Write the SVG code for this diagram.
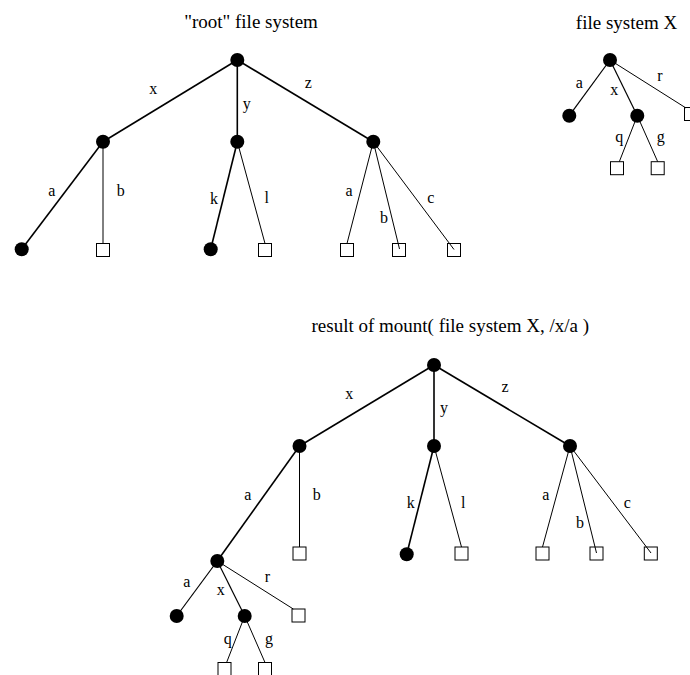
<svg xmlns="http://www.w3.org/2000/svg" width="690" height="675" viewBox="0 0 690 675">
<style>
  .bg { fill: #ffffff; }
  .dir { fill: #000000; }
  .file { fill: none; stroke: #000000; stroke-width: 1; }
  .thick { stroke: #000000; stroke-width: 1.6; fill: none; }
  .thin { stroke: #000000; stroke-width: 1; fill: none; }
  .mid { stroke: #000000; stroke-width: 1.2; fill: none; }
  .title { font-family: "Liberation Serif", "Times New Roman", serif; font-size: 19px; fill: #000; text-anchor: middle; }
  .lbl { font-family: "Liberation Serif", "Times New Roman", serif; font-size: 16px; fill: #000; text-anchor: middle; }
</style>
<rect class="bg" x="0" y="0" width="690" height="675"/>

<g id="titles">
  <text class="title" x="251" y="28">"root" file system</text>
  <text class="title" x="626.5" y="29">file system X</text>
  <text class="title" x="450.3" y="331.5">result of mount( file system X, /x/a )</text>
</g>

<g id="connectors">
  <!-- root file system -->
  <line class="thick" x1="237.3" y1="60" x2="103" y2="141.7"/>
  <line class="thick" x1="237.3" y1="60" x2="237.3" y2="141.7"/>
  <line class="thick" x1="237.3" y1="60" x2="373.3" y2="141.7"/>
  <line class="thick" x1="103" y1="141.7" x2="21.7" y2="249.3"/>
  <line class="thin" x1="103" y1="141.7" x2="103" y2="243.5"/>
  <line class="thick" x1="237.3" y1="141.7" x2="210.7" y2="249.3"/>
  <line class="thin" x1="237.3" y1="141.7" x2="265" y2="243.5"/>
  <line class="thin" x1="373.3" y1="141.7" x2="347" y2="243.5"/>
  <line class="thin" x1="373.3" y1="141.7" x2="399.5" y2="249"/>
  <line class="thin" x1="373.3" y1="141.7" x2="454" y2="249.5"/>
  <!-- file system X -->
  <line class="mid" x1="610" y1="60" x2="569.3" y2="115.7"/>
  <line class="mid" x1="610" y1="60" x2="637.3" y2="115.7"/>
  <line class="thin" x1="610" y1="60" x2="686" y2="108"/>
  <line class="thin" x1="637.3" y1="115.7" x2="619.3" y2="161.7"/>
  <line class="thin" x1="637.3" y1="115.7" x2="657.7" y2="161.7"/>
  <!-- mounted result -->
  <line class="thick" x1="434" y1="365" x2="299.5" y2="446"/>
  <line class="thick" x1="434" y1="365" x2="434" y2="446"/>
  <line class="thick" x1="434" y1="365" x2="570" y2="446"/>
  <line class="thick" x1="299.5" y1="446" x2="217.3" y2="561"/>
  <line class="thin" x1="299.5" y1="446" x2="299.5" y2="547"/>
  <line class="thick" x1="434" y1="446" x2="406.7" y2="554.3"/>
  <line class="thin" x1="434" y1="446" x2="461.5" y2="547"/>
  <line class="thin" x1="570" y1="446" x2="542.5" y2="547"/>
  <line class="thin" x1="570" y1="446" x2="596.5" y2="553"/>
  <line class="thin" x1="570" y1="446" x2="651" y2="553"/>
  <line class="mid" x1="217.3" y1="561" x2="176.7" y2="616"/>
  <line class="mid" x1="217.3" y1="561" x2="244.7" y2="616"/>
  <line class="thin" x1="217.3" y1="561" x2="293.3" y2="609"/>
  <line class="thin" x1="244.7" y1="616" x2="226.6" y2="662.5"/>
  <line class="thin" x1="244.7" y1="616" x2="265" y2="662.5"/>
</g>

<g id="labels">
  <text class="lbl" x="153.3" y="94">x</text>
  <text class="lbl" x="246.7" y="109">y</text>
  <text class="lbl" x="308.3" y="88.3">z</text>
  <text class="lbl" x="51.7" y="196">a</text>
  <text class="lbl" x="120.7" y="196">b</text>
  <text class="lbl" x="214" y="204">k</text>
  <text class="lbl" x="266.7" y="203.3">l</text>
  <text class="lbl" x="349" y="196">a</text>
  <text class="lbl" x="384" y="222.7">b</text>
  <text class="lbl" x="430.7" y="203.3">c</text>

  <text class="lbl" x="579.3" y="88.3">a</text>
  <text class="lbl" x="614.3" y="95">x</text>
  <text class="lbl" x="660" y="81">r</text>
  <text class="lbl" x="619.3" y="141.7">q</text>
  <text class="lbl" x="660.7" y="141.7">g</text>

  <text class="lbl" x="349.3" y="399.3">x</text>
  <text class="lbl" x="444" y="412.5">y</text>
  <text class="lbl" x="505" y="391.7">z</text>
  <text class="lbl" x="247.7" y="500">a</text>
  <text class="lbl" x="316.7" y="500">b</text>
  <text class="lbl" x="410.7" y="507.7">k</text>
  <text class="lbl" x="463.3" y="507.7">l</text>
  <text class="lbl" x="545.7" y="500">a</text>
  <text class="lbl" x="580" y="527.7">b</text>
  <text class="lbl" x="627.3" y="507.7">c</text>

  <text class="lbl" x="186.7" y="587.3">a</text>
  <text class="lbl" x="220.7" y="595">x</text>
  <text class="lbl" x="267.3" y="582.3">r</text>
  <text class="lbl" x="227.7" y="644.3">q</text>
  <text class="lbl" x="269" y="644.3">g</text>
</g>

<!-- root file system nodes -->
<g id="r-root"><circle class="dir" cx="237.3" cy="60" r="7"/></g>
<g id="r-x"><circle class="dir" cx="103" cy="141.7" r="7"/></g>
<g id="r-y"><circle class="dir" cx="237.3" cy="141.7" r="7"/></g>
<g id="r-z"><circle class="dir" cx="373.3" cy="141.7" r="7"/></g>
<g id="r-xa"><circle class="dir" cx="21.7" cy="249.3" r="7"/></g>
<g id="r-xb"><rect class="file" x="96.5" y="243.5" width="13" height="13"/></g>
<g id="r-yk"><circle class="dir" cx="210.7" cy="249.3" r="7"/></g>
<g id="r-yl"><rect class="file" x="258.5" y="243.5" width="13" height="13"/></g>
<g id="r-za"><rect class="file" x="340.5" y="243.5" width="13" height="13"/></g>
<g id="r-zb"><rect class="file" x="392.5" y="243.5" width="13" height="13"/></g>
<g id="r-zc"><rect class="file" x="447.5" y="243.5" width="13" height="13"/></g>

<!-- file system X nodes -->
<g id="X-root"><circle class="dir" cx="610" cy="60" r="7"/></g>
<g id="X-a"><circle class="dir" cx="569.3" cy="115.7" r="7"/></g>
<g id="X-x"><circle class="dir" cx="637.3" cy="115.7" r="7"/></g>
<g id="X-r"><rect class="file" x="684.5" y="107.5" width="13" height="13"/></g>
<g id="X-q"><rect class="file" x="610.5" y="161.7" width="13" height="13"/></g>
<g id="X-g"><rect class="file" x="651.2" y="161.7" width="13" height="13"/></g>

<!-- mounted result nodes -->
<g id="m-root"><circle class="dir" cx="434" cy="365" r="7"/></g>
<g id="m-x"><circle class="dir" cx="299.5" cy="446" r="7"/></g>
<g id="m-y"><circle class="dir" cx="434" cy="446" r="7"/></g>
<g id="m-z"><circle class="dir" cx="570" cy="446" r="7"/></g>
<g id="m-xa"><circle class="dir" cx="217.3" cy="561" r="7"/></g>
<g id="m-xb"><rect class="file" x="293" y="547" width="13" height="13"/></g>
<g id="m-yk"><circle class="dir" cx="406.7" cy="554.3" r="7"/></g>
<g id="m-yl"><rect class="file" x="455" y="547" width="13" height="13"/></g>
<g id="m-za"><rect class="file" x="536" y="547" width="13" height="13"/></g>
<g id="m-zb"><rect class="file" x="590" y="547" width="13" height="13"/></g>
<g id="m-zc"><rect class="file" x="644.3" y="547" width="13" height="13"/></g>
<g id="m-xaa"><circle class="dir" cx="176.7" cy="616" r="7"/></g>
<g id="m-xax"><circle class="dir" cx="244.7" cy="616" r="7"/></g>
<g id="m-xar"><rect class="file" x="292" y="609" width="13" height="13"/></g>
<g id="m-xaq"><rect class="file" x="218" y="662.5" width="13" height="13"/></g>
<g id="m-xag"><rect class="file" x="258.5" y="662.5" width="13" height="13"/></g>
</svg>
